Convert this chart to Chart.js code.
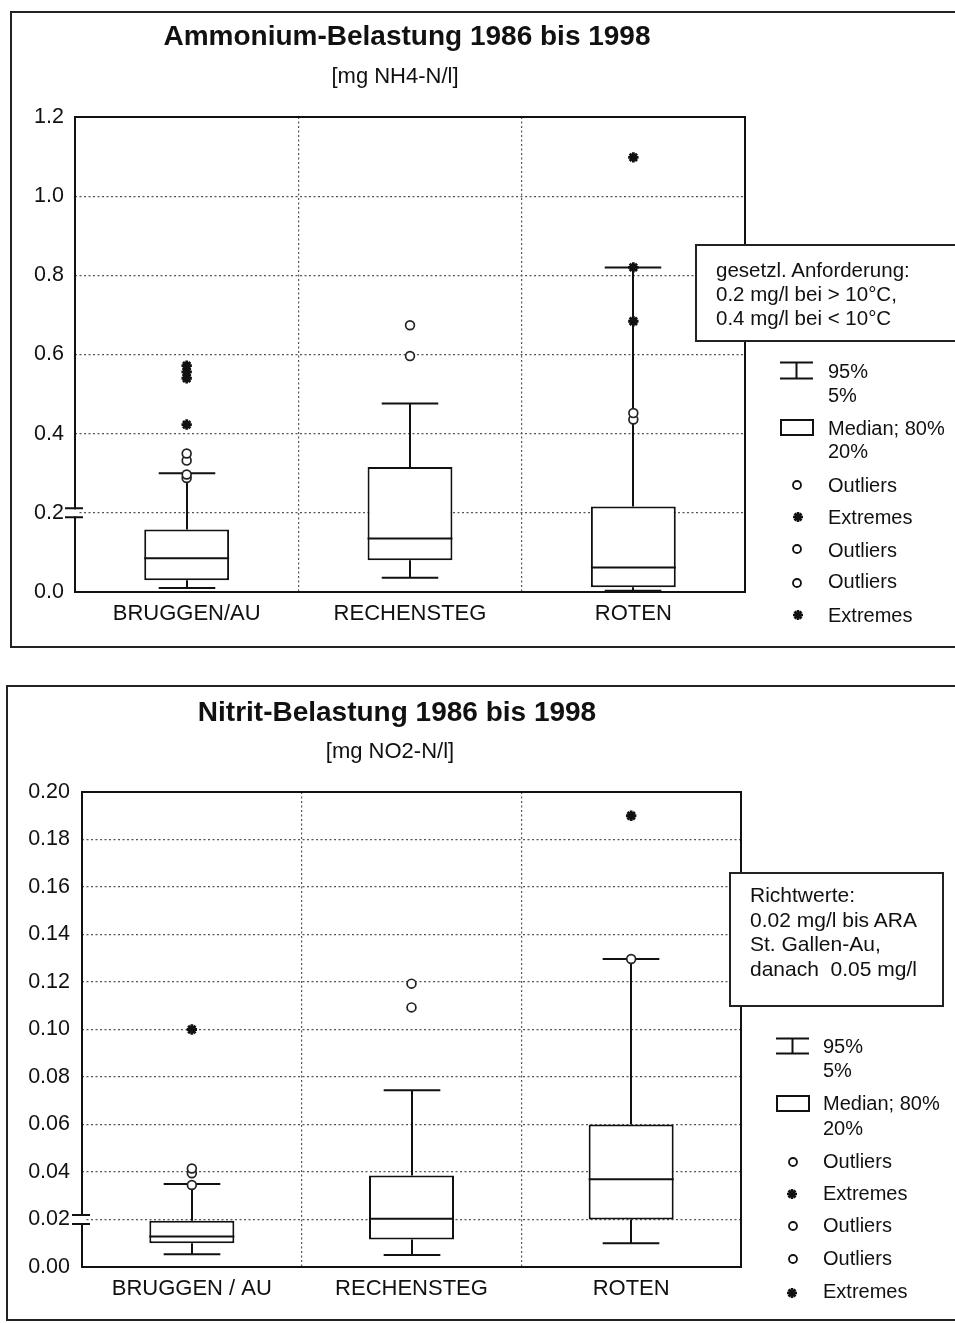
<!DOCTYPE html>
<html>
<head>
<meta charset="utf-8">
<script src="https://cdn.jsdelivr.net/npm/chart.js@4.4.1/dist/chart.umd.min.js"></script>
<style>
html,body{margin:0;padding:0;background:#fff;}
#page{position:relative;width:955px;height:1323px;overflow:hidden;background:#fff;font-family:'Liberation Sans',Arial,sans-serif;color:#111;}
.frame{position:absolute;border:2px solid #222;box-sizing:border-box;}
.wrap{position:absolute;left:0;}
.wrap canvas{display:block;}
.t{position:absolute;white-space:nowrap;}
.note{position:absolute;border:2px solid #222;background:#fff;box-sizing:border-box;}
#icons{position:absolute;left:0;top:0;}
</style>
</head>
<body>
<div id="page">
  <div class="frame" style="left:10px;top:11px;width:960px;height:637px"></div>
  <div class="frame" style="left:6px;top:685px;width:964px;height:636px"></div>
  <div class="wrap" style="top:0;width:955px;height:660px"><canvas id="c1" width="955" height="660"></canvas></div>
  <div class="wrap" style="top:660px;width:955px;height:663px"><canvas id="c2" width="955" height="663"></canvas></div>
  <div class="note" style="left:695px;top:244px;width:275px;height:98px"></div>
  <div class="note" style="left:729px;top:872px;width:215px;height:135px"></div>
  <svg id="icons" width="955" height="1323" xmlns="http://www.w3.org/2000/svg">
    <g stroke="#111" stroke-width="2" fill="none">
      <path d="M780 362.5H813 M796.5 362.5V378.5 M780 378.5H813"/>
      <rect x="781" y="420" width="32" height="15"/>
      <path d="M776 1038.5H809 M792.5 1038.5V1053.5 M776 1053.5H809"/>
      <rect x="777" y="1096" width="32" height="15"/>
    </g>
    <g stroke="#111" stroke-width="1.8" fill="#fff">
      <circle cx="797" cy="485" r="4"/>
      <circle cx="797" cy="549" r="4"/>
      <circle cx="797" cy="583" r="4"/>
      <circle cx="793" cy="1162" r="4"/>
      <circle cx="793" cy="1226" r="4"/>
      <circle cx="793" cy="1259" r="4"/>
    </g>
    <g stroke="#111" stroke-width="2.6" fill="none">
      <path d="M793 517H803 M798 512V522 M794.5 513.5L801.5 520.5 M801.5 513.5L794.5 520.5"/>
      <path d="M793 615H803 M798 610V620 M794.5 611.5L801.5 618.5 M801.5 611.5L794.5 618.5"/>
      <path d="M787 1194H797 M792 1189V1199 M788.5 1190.5L795.5 1197.5 M795.5 1190.5L788.5 1197.5"/>
      <path d="M787 1293H797 M792 1288V1298 M788.5 1289.5L795.5 1296.5 M795.5 1289.5L788.5 1296.5"/>
    </g>
  </svg>
</div>
<script>
// ---------- data: Ammonium (NH4) ----------
const nh4Stations = ['BRUGGEN/AU', 'RECHENSTEG', 'ROTEN'];
const nh4YTicks = [0, 0.2, 0.4, 0.6, 0.8, 1.0, 1.2];
const nh4YLabels = ['0.0', '0.2', '0.4', '0.6', '0.8', '1.0', '1.2'];
const nh4P5 = [0.010, 0.036, 0.003];
const nh4P20 = [0.030, 0.080, 0.012];
const nh4Median = [0.085, 0.135, 0.062];
const nh4P80 = [0.158, 0.316, 0.216];
const nh4P95 = [0.300, 0.476, 0.820];
const nh4Outliers = [[0.288, 0.297, 0.332, 0.350], [0.596, 0.674], [0.436, 0.452]];
const nh4Extremes = [[0.423, 0.540, 0.556, 0.572], [], [0.684, 0.820, 1.098]];
const nh4AxisBreak = 0.2;

// ---------- data: Nitrit (NO2) ----------
const no2Stations = ['BRUGGEN / AU', 'RECHENSTEG', 'ROTEN'];
const no2YTicks = [0, 0.02, 0.04, 0.06, 0.08, 0.10, 0.12, 0.14, 0.16, 0.18, 0.20];
const no2YLabels = ['0.00', '0.02', '0.04', '0.06', '0.08', '0.10', '0.12', '0.14', '0.16', '0.18', '0.20'];
const no2P5 = [0.0054, 0.0051, 0.0100];
const no2P20 = [0.0100, 0.0116, 0.0200];
const no2Median = [0.0128, 0.0203, 0.0369];
const no2P80 = [0.0195, 0.0385, 0.0600];
const no2P95 = [0.0350, 0.0744, 0.1297];
const no2Outliers = [[0.0345, 0.0395, 0.0415], [0.1093, 0.1193], [0.1297]];
const no2Extremes = [[0.100], [], [0.190]];
const no2AxisBreak = 0.02;

// ---------- text ----------
const legendLabels = ['95%', '5%', 'Median; 80%', '20%', 'Outliers', 'Extremes', 'Outliers', 'Outliers', 'Extremes'];
const FONT = "'Liberation Sans', Arial, sans-serif";

const page = document.getElementById('page');
function T(txt, x, base, fs, extra, center) {
  const d = document.createElement('div');
  d.className = 't';
  d.textContent = txt;
  let css = `top:${base - 0.8465 * fs}px;font-size:${fs}px;line-height:${fs}px;`;
  if (center) css += `left:${x - 400}px;width:800px;text-align:center;`;
  else css += `left:${x}px;`;
  d.style.cssText = css + (extra || '');
  page.appendChild(d);
}

T('Ammonium-Belastung 1986 bis 1998', 407, 46, 28, 'font-weight:bold;', true);
T('[mg NH4-N/l]', 395, 84, 22, '', true);
T('Nitrit-Belastung 1986 bis 1998', 397, 722, 28, 'font-weight:bold;', true);
T('[mg NO2-N/l]', 390, 759, 22, '', true);

['gesetzl. Anforderung:', '0.2 mg/l bei > 10°C,', '0.4 mg/l bei < 10°C'].forEach((s, i) => T(s, 716, 277 + i * 24, 20.5));
['Richtwerte:', '0.02 mg/l bis ARA', 'St. Gallen-Au,', 'danach\u00a0 0.05 mg/l'].forEach((s, i) => T(s, 750, [902, 927, 951, 976][i], 21));

const legTopBase = [378, 402, 435, 458, 492, 524, 557, 588, 622];
const legBotBase = [1053, 1077, 1110, 1135, 1168, 1200, 1232, 1265, 1298];
legendLabels.forEach((s, i) => { T(s, 828, legTopBase[i], 20); T(s, 823, legBotBase[i], 20); });

// ---------- box plot helpers ----------
const boxPlugin = {
  id: 'boxExtras',
  beforeDatasetsDraw(chart) {
    const { ctx, chartArea: a, scales: { y } } = chart;
    const ds = chart.data.datasets[0];
    const meta = chart.getDatasetMeta(0);
    ctx.save();
    ctx.strokeStyle = '#111';
    ctx.lineWidth = 2;
    ctx.strokeRect(a.left, a.top, a.right - a.left, a.bottom - a.top);
    // axis break mark
    const yb = y.getPixelForValue(ds.axisBreak);
    ctx.fillStyle = '#fff';
    ctx.fillRect(a.left - 2, yb - 3.5, 4, 7);
    ctx.beginPath();
    ctx.moveTo(a.left - 10, yb - 4.5); ctx.lineTo(a.left + 8, yb - 4.5);
    ctx.moveTo(a.left - 10, yb + 4.5); ctx.lineTo(a.left + 8, yb + 4.5);
    ctx.stroke();
    // whiskers
    meta.data.forEach((bar, i) => {
      const cx = Math.round(bar.x);
      const half = bar.width / 3;
      const yLo = y.getPixelForValue(ds.p5[i]);
      const yHi = y.getPixelForValue(ds.p95[i]);
      const yB = y.getPixelForValue(ds.data[i][0]);
      const yT = y.getPixelForValue(ds.data[i][1]);
      ctx.beginPath();
      ctx.moveTo(cx, yT); ctx.lineTo(cx, yHi);
      ctx.moveTo(cx - half, yHi); ctx.lineTo(cx + half, yHi);
      ctx.moveTo(cx, yB); ctx.lineTo(cx, yLo);
      ctx.moveTo(cx - half, yLo); ctx.lineTo(cx + half, yLo);
      ctx.stroke();
    });
    ctx.restore();
  },
  afterDatasetDraw(chart, args) {
    if (args.index !== 0) return;
    const { ctx, scales: { y } } = chart;
    const ds = chart.data.datasets[0];
    ctx.save();
    ctx.strokeStyle = '#111';
    ctx.lineWidth = 2;
    args.meta.data.forEach((bar, i) => {
      const ym = y.getPixelForValue(ds.median[i]);
      ctx.beginPath();
      ctx.moveTo(bar.x - bar.width / 2, ym);
      ctx.lineTo(bar.x + bar.width / 2, ym);
      ctx.stroke();
    });
    ctx.restore();
  }
};

function boxChart(id, cfg) {
  const outlierPts = [], extremePts = [];
  cfg.labels.forEach((lab, i) => {
    cfg.outliers[i].forEach(v => outlierPts.push({ x: lab, y: v }));
    cfg.extremes[i].forEach(v => extremePts.push({ x: lab, y: v }));
  });
  return new Chart(document.getElementById(id), {
    data: {
      labels: cfg.labels,
      datasets: [
        {
          type: 'bar',
          data: cfg.labels.map((l, i) => [cfg.p20[i], cfg.p80[i]]),
          backgroundColor: '#fff', borderColor: '#111', borderWidth: 2, borderSkipped: false,
          barPercentage: cfg.barPct, categoryPercentage: 1,
          p5: cfg.p5, p95: cfg.p95, median: cfg.median, axisBreak: cfg.axisBreak,
          order: 2
        },
        {
          type: 'line', data: outlierPts, showLine: false,
          pointStyle: 'circle', pointRadius: 4.4, pointBorderWidth: 1.7,
          pointBackgroundColor: '#fff', pointBorderColor: '#222', order: 1
        },
        {
          type: 'line', data: extremePts, showLine: false,
          pointStyle: 'star', pointRadius: 5.2, pointBorderWidth: 2.8,
          pointBackgroundColor: '#111', pointBorderColor: '#111', order: 0
        }
      ]
    },
    options: {
      responsive: false, animation: false, events: [],
      layout: { padding: cfg.padding },
      plugins: { legend: { display: false }, tooltip: { enabled: false }, title: { display: false } },
      scales: {
        x: {
          type: 'category', offset: true,
          grid: { offset: true, color: '#555', lineWidth: 1.2, drawTicks: false },
          border: { display: false, dash: [2, 2.5] },
          ticks: { color: '#111', font: { family: FONT, size: 22 }, padding: 9, maxRotation: 0 },
          afterFit(s) { s.height = 40; }
        },
        y: {
          type: 'linear', min: cfg.yTicks[0], max: cfg.yTicks[cfg.yTicks.length - 1],
          afterBuildTicks(s) { s.ticks = cfg.yTicks.map(v => ({ value: v })); },
          grid: { color: '#555', lineWidth: 1.2, drawTicks: false },
          border: { display: false, dash: [2, 2.5] },
          ticks: { color: '#111', font: { family: FONT, size: 21.5 }, padding: cfg.yPad, callback: (v, i) => cfg.yLabels[i] },
          afterFit(s) { s.width = 60; }
        }
      }
    },
    plugins: [boxPlugin]
  });
}

boxChart('c1', {
  labels: nh4Stations, yTicks: nh4YTicks, yLabels: nh4YLabels,
  p5: nh4P5, p20: nh4P20, median: nh4Median, p80: nh4P80, p95: nh4P95,
  outliers: nh4Outliers, extremes: nh4Extremes, axisBreak: nh4AxisBreak,
  barPct: 0.38, yPad: 11,
  padding: { left: 15, right: 210, top: 117, bottom: 28 }
});

boxChart('c2', {
  labels: no2Stations, yTicks: no2YTicks, yLabels: no2YLabels,
  p5: no2P5, p20: no2P20, median: no2Median, p80: no2P80, p95: no2P95,
  outliers: no2Outliers, extremes: no2Extremes, axisBreak: no2AxisBreak,
  barPct: 0.387, yPad: 12,
  padding: { left: 22, right: 214, top: 132, bottom: 16 }
});
</script>
</body>
</html>
